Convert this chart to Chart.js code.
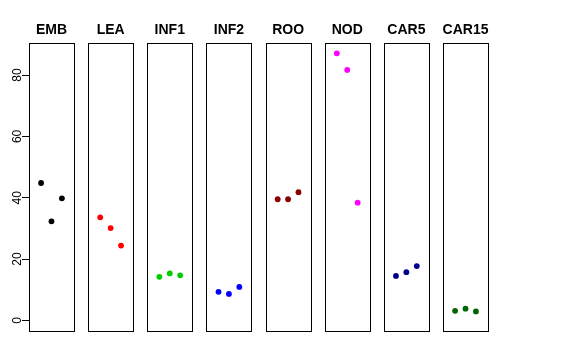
<!DOCTYPE html>
<html>
<head>
<meta charset="utf-8">
<script src="https://cdn.jsdelivr.net/npm/chart.js@4/dist/chart.umd.min.js"></script>
<style>
  html, body { margin: 0; padding: 0; background: #ffffff; }
  #wrap { position: relative; width: 576px; height: 360px; }
</style>
</head>
<body>
<div id="wrap"><canvas id="c" width="576" height="360"></canvas></div>
<script>
// ---- data ----
const categories = ['EMB', 'LEA', 'INF1', 'INF2', 'ROO', 'NOD', 'CAR5', 'CAR15'];
const EMB   = [44.8, 32.3, 39.8];
const LEA   = [33.6, 30.1, 24.4];
const INF1  = [14.2, 15.3, 14.7];
const INF2  = [9.3, 8.6, 10.9];
const ROO   = [39.5, 39.5, 41.8];
const NOD   = [87.1, 81.7, 38.4];
const CAR5  = [14.5, 15.7, 17.7];
const CAR15 = [3.1, 3.8, 2.9];
const seriesValues = [EMB, LEA, INF1, INF2, ROO, NOD, CAR5, CAR15];
const seriesColors = ['#000000', '#FF0000', '#00CD00', '#0000FF', '#8B0000', '#FF00FF', '#00008B', '#006400'];
const yTicks = [0, 20, 40, 60, 80];

// ---- layout of the panel strip (in x-scale units) ----
const PANEL_LO = -0.16, PANEL_HI = 4.16;   // x range inside each panel
const PANEL_STEP = 5.682;                   // distance between panel origins
const Y_MIN = -3.48, Y_MAX = 90.48;

const datasets = seriesValues.map((vals, i) => ({
  label: categories[i],
  data: vals.map((v, j) => ({ x: i * PANEL_STEP + (j + 1), y: v })),
  backgroundColor: seriesColors[i],
  borderColor: seriesColors[i],
  pointRadius: 2.9,
  pointHoverRadius: 2.9,
  pointBorderWidth: 0,
  showLine: false
}));

const panelPlugin = {
  id: 'panels',
  afterDatasetsDraw(chart) {
    const ctx = chart.ctx;
    const xs = chart.scales.x, ys = chart.scales.y;
    const top = ys.getPixelForValue(Y_MAX);
    const bottom = ys.getPixelForValue(Y_MIN);
    ctx.save();
    categories.forEach((name, i) => {
      const l = xs.getPixelForValue(i * PANEL_STEP + PANEL_LO);
      const r = xs.getPixelForValue(i * PANEL_STEP + PANEL_HI);
      ctx.strokeStyle = '#000000';
      ctx.lineWidth = 1;
      ctx.strokeRect(Math.round(l) + 0.5, Math.round(top) + 0.5, Math.round(r - l), Math.round(bottom - top));
      ctx.fillStyle = '#000000';
      ctx.font = 'bold 14px "Liberation Sans", Arial, sans-serif';
      ctx.textAlign = 'center';
      ctx.textBaseline = 'middle';
      ctx.fillText(name, (l + r) / 2, 30);
    });
    ctx.restore();
  }
};

new Chart(document.getElementById('c'), {
  type: 'scatter',
  data: { datasets },
  options: {
    responsive: false,
    animation: false,
    events: [],
    layout: { padding: { top: 43, right: 88, bottom: 29, left: 0 } },
    plugins: { legend: { display: false }, title: { display: false }, tooltip: { enabled: false } },
    scales: {
      x: {
        type: 'linear',
        min: PANEL_LO,
        max: (categories.length - 1) * PANEL_STEP + PANEL_HI,
        display: false
      },
      y: {
        type: 'linear',
        min: Y_MIN,
        max: Y_MAX,
        afterFit(scale) { scale.width = 29; },
        afterBuildTicks(scale) { scale.ticks = yTicks.map(v => ({ value: v })); },
        border: { display: false },
        grid: { display: true, drawOnChartArea: false, drawTicks: true, tickLength: 7, color: '#000000', lineWidth: 1 },
        ticks: {
          minRotation: 90,
          maxRotation: 90,
          crossAlign: 'center',
          padding: -2,
          color: '#000000',
          font: { family: '"Liberation Sans", Arial, sans-serif', size: 12 }
        }
      }
    }
  },
  plugins: [panelPlugin]
});
</script>
</body>
</html>
